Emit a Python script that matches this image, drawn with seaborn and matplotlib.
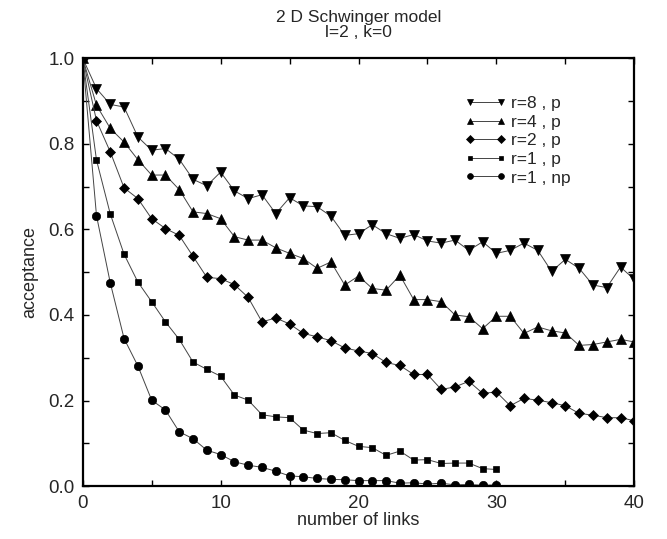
import numpy as np
import pandas as pd
import matplotlib
matplotlib.use('Agg')
import matplotlib.pyplot as plt
import seaborn as sns
from matplotlib.ticker import MultipleLocator, FormatStrFormatter

# --- données ---
links_40 = list(range(41))
links_30 = list(range(31))

r8_p = [1.0, 0.929, 0.892, 0.886, 0.816, 0.785, 0.789, 0.764, 0.717, 0.702,
        0.734, 0.690, 0.672, 0.681, 0.637, 0.674, 0.655, 0.653, 0.631, 0.586,
        0.590, 0.611, 0.590, 0.579, 0.588, 0.573, 0.568, 0.575, 0.551, 0.571,
        0.544, 0.551, 0.568, 0.551, 0.502, 0.530, 0.509, 0.470, 0.464, 0.512,
        0.483]
r4_p = [1.0, 0.890, 0.836, 0.804, 0.763, 0.727, 0.727, 0.693, 0.641, 0.637,
        0.625, 0.583, 0.575, 0.575, 0.557, 0.544, 0.532, 0.509, 0.524, 0.470,
        0.491, 0.462, 0.458, 0.493, 0.436, 0.436, 0.431, 0.400, 0.396, 0.368,
        0.397, 0.397, 0.357, 0.372, 0.363, 0.358, 0.329, 0.331, 0.337, 0.343,
        0.337]
r2_p = [1.0, 0.854, 0.781, 0.697, 0.672, 0.625, 0.602, 0.586, 0.537, 0.488,
        0.485, 0.471, 0.441, 0.384, 0.393, 0.379, 0.357, 0.349, 0.340, 0.323,
        0.316, 0.310, 0.289, 0.282, 0.261, 0.261, 0.226, 0.232, 0.245, 0.217,
        0.220, 0.188, 0.205, 0.201, 0.195, 0.188, 0.170, 0.166, 0.160, 0.160,
        0.153]
r1_p = [1.0, 0.762, 0.636, 0.542, 0.477, 0.431, 0.384, 0.343, 0.290, 0.273,
        0.257, 0.213, 0.201, 0.167, 0.162, 0.160, 0.131, 0.123, 0.125, 0.107,
        0.093, 0.090, 0.072, 0.082, 0.061, 0.062, 0.053, 0.054, 0.054, 0.041,
        0.039]
r1_np = [1.0, 0.632, 0.475, 0.345, 0.281, 0.201, 0.178, 0.127, 0.111, 0.084,
         0.074, 0.057, 0.049, 0.044, 0.035, 0.024, 0.022, 0.018, 0.016, 0.015,
         0.013, 0.013, 0.013, 0.007, 0.008, 0.005, 0.007, 0.003, 0.004, 0.002,
         0.003]

labels = ['r=8 , p', 'r=4 , p', 'r=2 , p', 'r=1 , p', 'r=1 , np']
series = [(links_40, r8_p), (links_40, r4_p), (links_40, r2_p),
          (links_30, r1_p), (links_30, r1_np)]
markers = ['v', '^', 'D', 's', 'o']
msizes = [7.0, 7.0, 5.5, 4.5, 6.0]

sns.set_style('ticks')
plt.rcParams['font.family'] = ['Liberation Sans', 'DejaVu Sans']

fig = plt.figure(figsize=(6.67, 5.39), dpi=100)
ax = fig.add_axes([0.124, 0.098, 0.827, 0.794])

for (xs, ys), lab, mk, ms in zip(series, labels, markers, msizes):
    df = pd.DataFrame({'links': xs, 'acc': ys})
    sns.lineplot(data=df, x='links', y='acc', ax=ax, label=lab,
                 color='#444444', linewidth=0.7, marker=mk, markersize=ms,
                 markerfacecolor='black', markeredgecolor='black',
                 markeredgewidth=0.5)

ax.set_xlim(0, 40)
ax.set_ylim(0, 1.0)
ax.xaxis.set_major_locator(MultipleLocator(10))
ax.xaxis.set_minor_locator(MultipleLocator(5))
ax.yaxis.set_major_locator(MultipleLocator(0.2))
ax.yaxis.set_minor_locator(MultipleLocator(0.1))
ax.yaxis.set_major_formatter(FormatStrFormatter('%.1f'))
ax.tick_params(which='both', direction='in', top=True, right=True,
               labelsize=13.5, width=1.0, color='black')
ax.tick_params(which='major', length=4, pad=6)
ax.tick_params(which='minor', length=4)
for sp in ax.spines.values():
    sp.set_linewidth(1.6)
    sp.set_color('black')

ax.set_xlabel('number of links', fontsize=13, labelpad=0)
ax.set_ylabel('acceptance', fontsize=13, labelpad=7)
ax.set_title('2 D Schwinger model\nl=2 , k=0', fontsize=12.5, pad=15,
             linespacing=1.05)

ax.legend(loc='upper right', bbox_to_anchor=(0.885, 0.912), frameon=False,
          borderaxespad=0, borderpad=0,
          numpoints=2, markerscale=0.7, handlelength=2.4, fontsize=12.5,
          labelspacing=0.2, handletextpad=0.3)

plt.savefig('out.png', dpi=100)
plt.close()
